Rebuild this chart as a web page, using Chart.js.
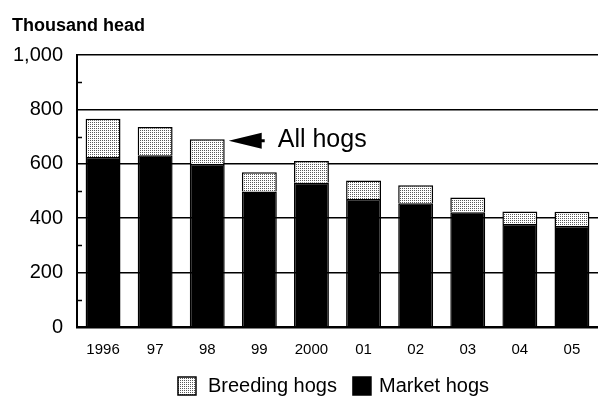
<!DOCTYPE html>
<html>
<head>
<meta charset="utf-8">
<script src="https://cdn.jsdelivr.net/npm/chart.js@4.4.1/dist/chart.umd.min.js"></script>
<style>
  html, body { margin: 0; padding: 0; background: #fff; overflow: hidden; }
  #wrap { width: 598px; height: 397px; }
</style>
</head>
<body>
<div id="wrap"><canvas id="c" width="598" height="397"></canvas></div>
<script>
// Hog inventory, thousand head
const years = ['1996', '97', '98', '99', '2000', '01', '02', '03', '04', '05'];
const marketHogs = [625, 631, 599, 498, 530, 471, 455, 422, 379, 371];
const breedingHogs = [141, 104, 91, 71, 80, 68, 66, 54, 46, 53];
const yTicks = [0, 200, 400, 600, 800, 1000];
const minorTicks = [100, 300, 500, 700, 900];

const FONT = "'Liberation Sans', Arial, Helvetica, sans-serif";

// fine stipple fill for the breeding segment
function stipple() {
  const t = document.createElement('canvas');
  t.width = 2; t.height = 2;
  const g = t.getContext('2d');
  g.fillStyle = '#ffffff';
  g.fillRect(0, 0, 2, 2);
  g.fillStyle = '#5a5a5a';
  g.fillRect(0, 0, 1, 1);
  return g.createPattern(t, 'repeat');
}
const dotFill = stipple();

// header text, minor ticks, the "All hogs" pointer and the legend row
const decorations = {
  id: 'decorations',
  afterDraw(chart) {
    const ctx = chart.ctx;
    const y = chart.scales.y;
    const area = chart.chartArea;
    ctx.save();
    ctx.fillStyle = '#000';
    ctx.font = 'bold 18px ' + FONT;
    ctx.textBaseline = 'alphabetic';
    ctx.textAlign = 'left';
    ctx.fillText('Thousand head', 12, 31);

    ctx.strokeStyle = '#000';
    ctx.lineWidth = 1.5;
    minorTicks.forEach(v => {
      const py = Math.round(y.getPixelForValue(v)) + 0.5;
      ctx.beginPath();
      ctx.moveTo(area.left, py);
      ctx.lineTo(area.left + 5, py);
      ctx.stroke();
    });

    const bar = chart.getDatasetMeta(1).data[2];
    const tipX = bar.x + bar.width / 2 + 4;
    const tipY = bar.y + 1.5;
    ctx.beginPath();
    ctx.moveTo(tipX, tipY);
    ctx.lineTo(tipX + 33, tipY - 8);
    ctx.lineTo(tipX + 33, tipY - 1.5);
    ctx.lineTo(tipX + 36, tipY - 1.5);
    ctx.lineTo(tipX + 36, tipY + 1.5);
    ctx.lineTo(tipX + 33, tipY + 1.5);
    ctx.lineTo(tipX + 33, tipY + 8);
    ctx.closePath();
    ctx.fill();
    ctx.font = '25px ' + FONT;
    ctx.fillText('All hogs', tipX + 49, tipY + 6);

    // legend: breeding first, then market
    const items = [chart.data.datasets[1], chart.data.datasets[0]];
    ctx.font = '20px ' + FONT;
    const box = 18, gapText = [12, 8], gapItem = 16;
    let total = 0;
    items.forEach((d, i) => {
      total += box + gapText[i] + ctx.measureText(d.label).width;
      if (i < items.length - 1) total += gapItem;
    });
    let x = (area.left + area.right) / 2 - 4 - total / 2;
    const baseline = 392;
    items.forEach((d, i) => {
      ctx.fillStyle = d.backgroundColor;
      ctx.fillRect(x, baseline - 15, box, box);
      ctx.strokeStyle = '#000';
      ctx.lineWidth = 1.5;
      ctx.strokeRect(x, baseline - 15, box, box);
      x += box + gapText[i];
      ctx.fillStyle = '#000';
      ctx.fillText(d.label, x, baseline);
      x += ctx.measureText(d.label).width + gapItem;
    });
    ctx.restore();
  }
};

new Chart(document.getElementById('c'), {
  type: 'bar',
  data: {
    labels: years,
    datasets: [
      {
        label: 'Market hogs',
        data: marketHogs,
        backgroundColor: '#000',
        borderColor: '#000',
        borderWidth: 1.5
      },
      {
        label: 'Breeding hogs',
        data: breedingHogs,
        backgroundColor: dotFill,
        borderColor: '#000',
        borderWidth: 1.5
      }
    ]
  },
  options: {
    responsive: false,
    animation: false,
    devicePixelRatio: 1,
    layout: { padding: { top: 55, right: 0, bottom: 24, left: 0 } },
    datasets: { bar: { categoryPercentage: 1, barPercentage: 0.67 } },
    plugins: {
      legend: { display: false },
      title: { display: false },
      tooltip: { enabled: false }
    },
    scales: {
      x: {
        stacked: true,
        grid: { display: false, drawTicks: false },
        border: { display: true, color: '#000', width: 2.5 },
        ticks: { color: '#000', font: { family: FONT, size: 15 }, padding: 14, maxRotation: 0 }
      },
      y: {
        stacked: true,
        min: 0,
        max: 1000,
        afterFit(scale) { scale.width = 77; },
        afterBuildTicks(scale) { scale.ticks = yTicks.map(v => ({ value: v })); },
        grid: { color: '#000', lineWidth: 1.5, drawTicks: false },
        border: { display: true, color: '#000', width: 2 },
        ticks: {
          color: '#000',
          font: { family: FONT, size: 20 },
          padding: 14,
          callback: v => v.toLocaleString('en-US')
        }
      }
    }
  },
  plugins: [decorations]
});
</script>
</body>
</html>
